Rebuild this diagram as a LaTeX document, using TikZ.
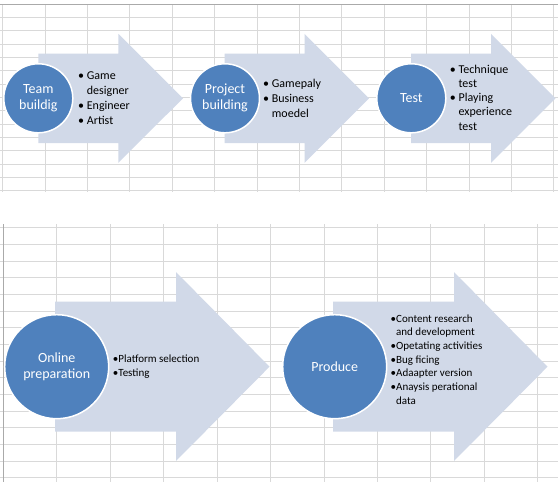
\documentclass[tikz,border=0pt]{standalone}
\usepackage{fontspec}
\setmainfont{Carlito}
\usepackage{tikz}

\definecolor{gridgray}{RGB}{217,217,217}
\definecolor{bordergray}{RGB}{170,170,170}
\definecolor{stepblue}{RGB}{79,129,189}
\definecolor{arrowblue}{RGB}{209,217,232}

\begin{document}
\begin{tikzpicture}[x=1pt, y=-1pt,
		gridline/.style={draw=gridgray, line width=0.9pt},
		bigarrow/.style={fill=arrowblue},
		stepcircle/.style={circle, fill=stepblue, draw=white, line width=1.5pt,
			text=white, align=center, inner sep=0pt,
			font=\fontsize{14}{16}\selectfont},
		bullets/.style={anchor=west, align=left, inner sep=0pt,
			font=\fontsize{12}{15}\selectfont},
		smallbullets/.style={anchor=west, align=left, inner sep=0pt,
			font=\fontsize{11}{13.7}\selectfont}]
	\useasboundingbox (0,0) rectangle (558,482);
	\fill[white] (0,0) rectangle (558,482);

	% sheet grid, upper part
	\foreach \gx in {0,...,13}
		\draw[gridline] (2.7+42.4*\gx,4) -- (2.7+42.4*\gx,192);
	\foreach \gy in {1,...,14}
		\draw[gridline] (0,4+13.33*\gy) -- (558,4+13.33*\gy);
	\draw[bordergray, line width=1pt] (0,4) -- (558,4);

	% sheet grid, lower part
	\foreach \gx in {1,...,10}
		\draw[gridline] (3.3+53.45*\gx,224) -- (3.3+53.45*\gx,482);
	\foreach \gy in {0,...,15}
		\draw[gridline] (0,227.7+16.67*\gy) -- (558,227.7+16.67*\gy);
	\draw[bordergray, line width=1.5pt] (3.3,224) -- (3.3,482);

	% arrows
	\fill[bigarrow] (38.3,53.6) -- (118.3,53.6) -- (118.3,33.8) -- (183,98.3)
		-- (118.3,162.8) -- (118.3,143) -- (38.3,143) -- cycle;
	\fill[bigarrow] (224.5,53.6) -- (304.5,53.6) -- (304.5,33.8) -- (369,98.3)
		-- (304.5,162.8) -- (304.5,143) -- (224.5,143) -- cycle;
	\fill[bigarrow] (411,53.6) -- (491,53.6) -- (491,33.8) -- (555.5,98.3)
		-- (491,162.8) -- (491,143) -- (411,143) -- cycle;
	\fill[bigarrow] (55,301.7) -- (176,301.7) -- (176,272) -- (269.5,366.7)
		-- (176,461) -- (176,431.7) -- (55,431.7) -- cycle;
	\fill[bigarrow] (333,301.7) -- (454,301.7) -- (454,272) -- (547.5,366.7)
		-- (454,461) -- (454,431.7) -- (333,431.7) -- cycle;

	% steps
	\node[stepcircle, minimum size=69pt] (team) at (38.3,98.3) {Team\\buildig};
	\node[stepcircle, minimum size=69pt] (project) at (225,98.3) {Project\\building};
	\node[stepcircle, minimum size=69pt] (test) at (411.3,98.3) {Test};
	\node[stepcircle, minimum size=104pt] (online) at (56.7,366.7) {Online\\preparation};
	\node[stepcircle, minimum size=104pt] (produce) at (334.7,366.7) {Produce};

	% bullet texts
	\node[bullets] (teamlist) at (78,98) {\textbullet\ Game\\
		\hphantom{\textbullet\ }designer\\
		\textbullet\ Engineer\\
		\textbullet\ Artist};
	\node[bullets] (projectlist) at (263,98) {\textbullet\ Gamepaly\\
		\textbullet\ Business\\
		\hphantom{\textbullet\ }moedel};
	\node[bullets, font=\fontsize{12}{14.3}\selectfont] (testlist) at (449.7,97.5) {\textbullet\ Technique\\
		\hphantom{\textbullet\ }test\\
		\textbullet\ Playing\\
		\hphantom{\textbullet\ }experience\\
		\hphantom{\textbullet\ }test};
	\node[smallbullets] (onlinelist) at (112.7,366.3) {\textbullet Platform selection\\
		\textbullet Testing};
	\node[smallbullets] (producelist) at (390.5,359.5) {\textbullet Content research\\
		\hphantom{\textbullet}and development\\
		\textbullet Opetating activities\\
		\textbullet Bug ficing\\
		\textbullet Adaapter version\\
		\textbullet Anaysis perational\\
		\hphantom{\textbullet}data};
\end{tikzpicture}
\end{document}
